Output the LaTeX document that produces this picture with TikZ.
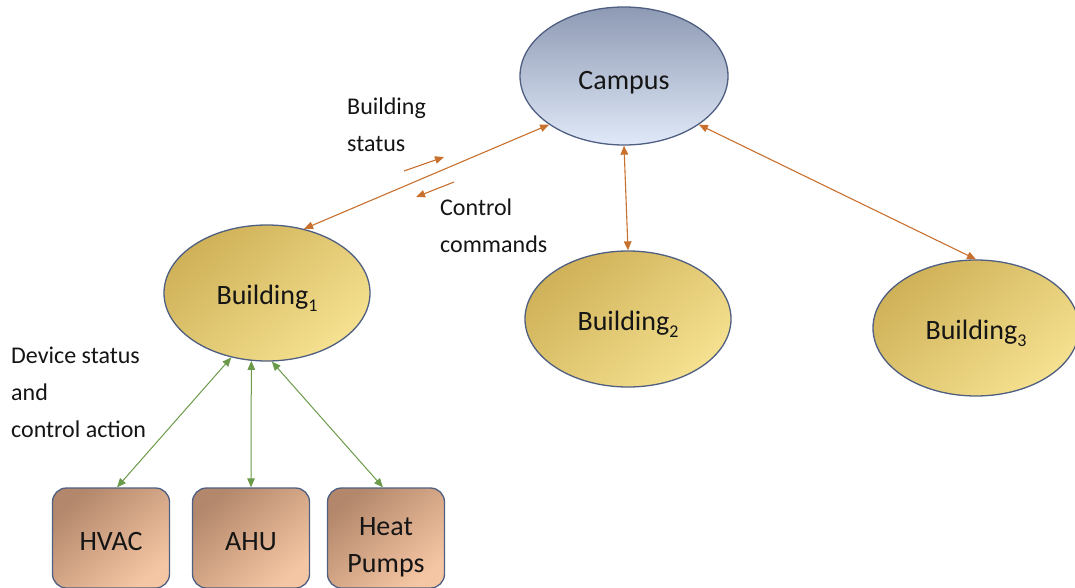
\documentclass[tikz,border=0pt]{standalone}
\usepackage{fontspec}
\setmainfont{Carlito}
\usetikzlibrary{shapes.geometric,arrows.meta}
\definecolor{edgeblue}{HTML}{4F5F82}
\definecolor{camtop}{HTML}{8E9AB4}
\definecolor{cambot}{HTML}{E0E9F8}
\definecolor{bldtop}{HTML}{CFB158}
\definecolor{bldbot}{HTML}{F5E190}
\definecolor{devtop}{HTML}{B3876B}
\definecolor{devbot}{HTML}{F5C6A3}
\definecolor{orangearrow}{HTML}{C8702E}
\definecolor{greenarrow}{HTML}{6A9A4A}
\definecolor{txt}{HTML}{151515}
\newcommand{\lowsub}[1]{\raisebox{-0.28em}{\fontsize{18}{18}\selectfont #1}}
\tikzset{
  campusnode/.style={ellipse, draw=edgeblue, line width=1.3pt, inner sep=0pt,
    minimum width=208pt, minimum height=138pt,
    top color=camtop, bottom color=cambot, text=txt,
    text height=30pt, text depth=2pt,
    font=\fontsize{28}{32}\selectfont},
  bldnode/.style={ellipse, draw=edgeblue, line width=1.3pt, inner sep=0pt,
    minimum width=206pt, minimum height=136pt,
    top color=bldtop, bottom color=bldbot, shading angle=40, text=txt,
    text height=25pt, text depth=3pt,
    font=\fontsize{28}{31}\selectfont},
  devnode/.style={rectangle, rounded corners=14pt, draw=edgeblue, line width=1.3pt,
    inner sep=0pt, minimum width=117pt, minimum height=100pt,
    top color=devtop, bottom color=devbot, shading angle=40, text=txt,
    align=center, font=\fontsize{28}{37}\selectfont},
  labeltext/.style={inner sep=0pt, align=left, text=txt,
    font=\fontsize{24}{37}\selectfont},
  orangelink/.style={draw=orangearrow, line width=1.1pt,
    {Triangle[length=9pt,width=7.5pt]}-{Triangle[length=9pt,width=7.5pt]}},
  orangeone/.style={draw=orangearrow, line width=1.1pt,
    -{Triangle[length=9pt,width=7.5pt]}},
  greenlink/.style={draw=greenarrow, line width=1pt,
    {Triangle[length=9pt,width=7.5pt]}-{Triangle[length=9pt,width=7.5pt]}}
}
\begin{document}
\begin{tikzpicture}[x=1pt,y=-1pt]
\useasboundingbox (0,0) rectangle (1075,588);
\node[campusnode] (campus) at (624,76) {Campus};
\node[bldnode] (b1) at (267,293) {Building\lowsub{1}};
\node[bldnode] (b2) at (628,319) {Building\lowsub{2}};
\node[bldnode] (b3) at (976,328) {Building\lowsub{3}};
\node[devnode, text height=27pt, text depth=3pt] (hvac) at (111,538) {HVAC};
\node[devnode, text height=27pt, text depth=3pt] (ahu) at (251,538) {AHU};
\node[devnode, text height=70pt, text depth=2pt] (heat) at (386,538) {Heat\\Pumps};

\draw[orangelink] (campus.213) -- (b1.60);
\draw[orangelink] (campus.south) -- (b2.north);
\draw[orangelink] (campus.-33) -- (b3.north);

\draw[greenlink] (b1.241) -- ([xshift=6pt]hvac.north);
\draw[greenlink] (b1.257) -- (ahu.north);
\draw[greenlink] (b1.274) -- ([xshift=-3pt]heat.north);

\coordinate (s1a) at (404,171);
\coordinate (s1b) at (444,157);
\coordinate (s2a) at (454,182);
\coordinate (s2b) at (416,197);
\draw[orangeone] (s1a) -- (s1b);
\draw[orangeone] (s2a) -- (s2b);

\node[labeltext, anchor=base west] (bs) at (347,152) {Building\\status};
\node[labeltext, anchor=base west] (cc) at (440,252) {Control\\commands};
\node[labeltext, anchor=base west] (ds) at (11,437) {Device status\\and\\control action};
\end{tikzpicture}
\end{document}
